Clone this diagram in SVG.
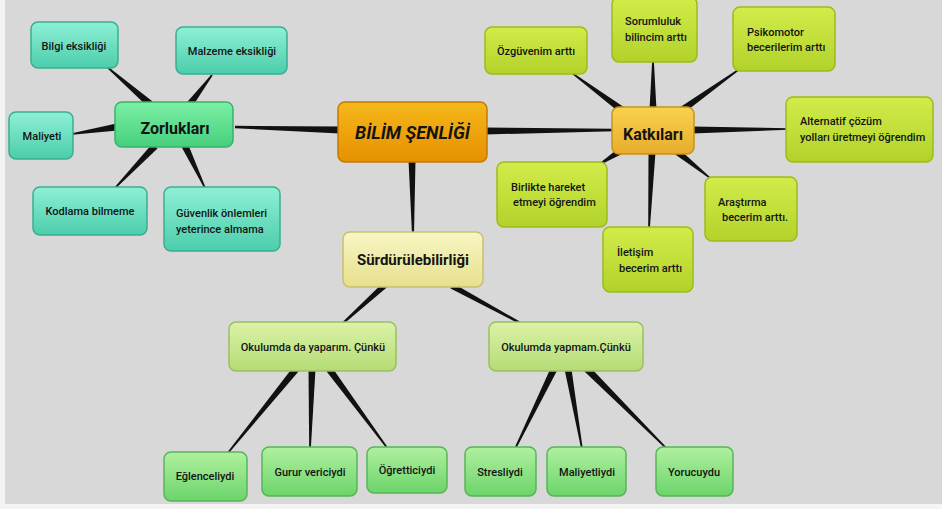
<svg xmlns="http://www.w3.org/2000/svg" width="942" height="509" viewBox="0 0 942 509">
<defs>
<linearGradient id="gTeal" x1="0" y1="0" x2="0" y2="1"><stop offset="0" stop-color="#8ef0d6"/><stop offset="1" stop-color="#4ccdab"/></linearGradient>
<linearGradient id="gGreen" x1="0" y1="0" x2="0" y2="1"><stop offset="0" stop-color="#7cf0a4"/><stop offset="1" stop-color="#46cf7e"/></linearGradient>
<linearGradient id="gOrange" x1="0" y1="0" x2="0" y2="1"><stop offset="0" stop-color="#f6b81a"/><stop offset="1" stop-color="#e69000"/></linearGradient>
<linearGradient id="gGold" x1="0" y1="0" x2="0" y2="1"><stop offset="0" stop-color="#f8d24e"/><stop offset="1" stop-color="#e8ac2c"/></linearGradient>
<linearGradient id="gLime" x1="0" y1="0" x2="0" y2="1"><stop offset="0" stop-color="#d2ec4a"/><stop offset="1" stop-color="#b2d22a"/></linearGradient>
<linearGradient id="gPale" x1="0" y1="0" x2="0" y2="1"><stop offset="0" stop-color="#f8f6c4"/><stop offset="1" stop-color="#e6e08c"/></linearGradient>
<linearGradient id="gSage" x1="0" y1="0" x2="0" y2="1"><stop offset="0" stop-color="#dcf2a8"/><stop offset="1" stop-color="#b4dc74"/></linearGradient>
<linearGradient id="gLeaf" x1="0" y1="0" x2="0" y2="1"><stop offset="0" stop-color="#b0f0a0"/><stop offset="1" stop-color="#6cd46a"/></linearGradient>
</defs>
<style>
.teal{fill:url(#gTeal);stroke:#3aae8e;stroke-width:1.5}
.green{fill:url(#gGreen);stroke:#36b46a;stroke-width:1.5}
.orange{fill:url(#gOrange);stroke:#c47a00;stroke-width:1.5}
.gold{fill:url(#gGold);stroke:#c8921c;stroke-width:1.5}
.lime{fill:url(#gLime);stroke:#9cbc1c;stroke-width:1.5}
.pale{fill:url(#gPale);stroke:#c8c070;stroke-width:1.5}
.sage{fill:url(#gSage);stroke:#98c060;stroke-width:1.5}
.leaf{fill:url(#gLeaf);stroke:#56b656;stroke-width:1.5}
text{font-family:Roboto,"Liberation Sans",sans-serif;fill:#141414;font-size:11px;font-weight:500}
.c{text-anchor:middle}
.big{font-size:16px;font-weight:bold}
.title{font-size:18px;font-weight:bold;font-style:italic}
#connectors polygon{fill:#111}
</style>
<rect x="0" y="0" width="942" height="509" fill="#f4f4f4"/>
<rect x="5" y="0" width="937" height="504" fill="#d8d8d8"/>
<g id="connectors">
<polygon points="340.1,126.5 235,125.8 235,128.2 339.9,133.5"/>
<polygon points="485,127.5 614,128.8 614,131.2 485,134.5"/>
<polygon points="408.5,160 412,234 414,234 415.5,160"/>
<polygon points="383,282.8 341.3,323.3 342.7,324.7 387,287.2"/>
<polygon points="450.6,288.6 521.5,324.9 522.5,323.1 453.4,283.4"/>
<polygon points="152.3,101.3 106.5,65.4 105.5,66.6 147.7,106.7"/>
<polygon points="192.8,106.1 212.6,75.5 211.4,74.5 187.2,101.9"/>
<polygon points="116.5,123.5 71.9,133.2 72.1,134.8 117.5,130.5"/>
<polygon points="152.5,143.6 114.4,187.5 115.6,188.6 157.5,148.4"/>
<polygon points="181.8,147.5 204.3,188.3 205.7,187.7 188.2,144.5"/>
<polygon points="624.1,107.2 572.5,72.4 571.5,73.6 619.9,112.8"/>
<polygon points="649.5,110 652.2,60 653.8,60 656.5,110"/>
<polygon points="684,112.9 738.5,70.7 737.5,69.4 680,107.2"/>
<polygon points="692,126.5 788,128.2 788,129.8 692,133.5"/>
<polygon points="672.8,152.7 709.5,178.6 710.5,177.4 677.2,147.3"/>
<polygon points="648.5,152 648.2,229 649.8,229 655.5,152"/>
<polygon points="620.1,147 599.6,163.3 600.4,164.7 623.9,153"/>
<polygon points="293.3,366.8 226.4,453.5 227.6,454.5 298.7,371.2"/>
<polygon points="308.5,369 309.2,449 310.8,449 315.5,369"/>
<polygon points="326.2,371.1 387.4,449.5 388.6,448.5 331.8,366.9"/>
<polygon points="550.9,367.5 514.3,448.6 515.7,449.4 557.1,370.5"/>
<polygon points="564.6,369.6 581.2,449.1 582.8,448.9 571.4,368.4"/>
<polygon points="584.5,371.5 666.4,449.6 667.6,448.4 589.5,366.5"/>
</g>
<g id="bilim"><rect class="orange" x="338" y="102" width="149" height="60" rx="7"/><text class="c title" x="412.5" y="139">BİLİM ŞENLİĞİ</text></g>
<g id="zorluklari"><rect class="green" x="115" y="102" width="118" height="45" rx="7"/><text class="c big" x="175" y="134">Zorlukları</text></g>
<g id="bilgi"><rect class="teal" x="31" y="22" width="87" height="46" rx="7"/><text class="c" x="74" y="50">Bilgi eksikliği</text></g>
<g id="malzeme"><rect class="teal" x="176" y="27" width="111" height="47" rx="7"/><text class="c" x="232" y="55">Malzeme eksikliği</text></g>
<g id="maliyeti"><rect class="teal" x="9" y="112" width="64" height="47" rx="7"/><text class="c" x="42" y="140">Maliyeti</text></g>
<g id="kodlama"><rect class="teal" x="33" y="187" width="114" height="48" rx="7"/><text class="c" x="90" y="215">Kodlama bilmeme</text></g>
<g id="guvenlik"><rect class="teal" x="164" y="187" width="116" height="64" rx="7"/><text x="176" y="217">Güvenlik önlemleri</text><text x="176" y="233">yeterince almama</text></g>
<g id="katkilari"><rect class="gold" x="612" y="107" width="82" height="47" rx="7"/><text class="c big" x="653" y="140">Katkıları</text></g>
<g id="ozguven"><rect class="lime" x="485" y="27" width="102" height="47" rx="7"/><text class="c" x="536" y="55">Özgüvenim arttı</text></g>
<g id="sorumluluk"><rect class="lime" x="612" y="-3" width="85" height="65" rx="7"/><text x="625" y="25">Sorumluluk</text><text x="625" y="41">bilincim arttı</text></g>
<g id="psikomotor"><rect class="lime" x="733" y="7" width="102" height="64" rx="7"/><text x="747" y="36">Psikomotor</text><text x="747" y="51">becerilerim arttı</text></g>
<g id="alternatif"><rect class="lime" x="786" y="97" width="147" height="65" rx="7"/><text x="800" y="125">Alternatif çözüm</text><text x="800" y="141">yolları üretmeyi öğrendim</text></g>
<g id="birlikte"><rect class="lime" x="497" y="162" width="110" height="65" rx="7"/><text x="511" y="191">Birlikte hareket</text><text x="513" y="206">etmeyi öğrendim</text></g>
<g id="arastirma"><rect class="lime" x="705" y="177" width="92" height="64" rx="7"/><text x="718" y="206">Araştırma</text><text x="722" y="221">becerim arttı.</text></g>
<g id="iletisim"><rect class="lime" x="603" y="227" width="90" height="65" rx="7"/><text x="617" y="256">İletişim</text><text x="619" y="272">becerim arttı</text></g>
<g id="surdurulebilirligi"><rect class="pale" x="343" y="232" width="140" height="55" rx="7"/><text class="c" x="413" y="265" style="font-size:15px;font-weight:bold">Sürdürülebilirliği</text></g>
<g id="yaparim"><rect class="sage" x="229" y="322" width="167" height="49" rx="7"/><text class="c" x="313" y="351">Okulumda da yaparım. Çünkü</text></g>
<g id="yapmam"><rect class="sage" x="489" y="322" width="154" height="49" rx="7"/><text class="c" x="566" y="351">Okulumda yapmam.Çünkü</text></g>
<g id="eglenceli"><rect class="leaf" x="164" y="452" width="83" height="49" rx="7"/><text class="c" x="205" y="480">Eğlenceliydi</text></g>
<g id="gurur"><rect class="leaf" x="262" y="447" width="95" height="49" rx="7"/><text class="c" x="310" y="476">Gurur vericiydi</text></g>
<g id="ogretti"><rect class="leaf" x="367" y="447" width="80" height="46" rx="7"/><text class="c" x="407" y="474">Öğretticiydi</text></g>
<g id="stresli"><rect class="leaf" x="465" y="447" width="71" height="49" rx="7"/><text class="c" x="500" y="476">Stresliydi</text></g>
<g id="maliyetli"><rect class="leaf" x="547" y="447" width="79" height="49" rx="7"/><text class="c" x="587" y="476">Maliyetliydi</text></g>
<g id="yorucu"><rect class="leaf" x="656" y="447" width="77" height="49" rx="7"/><text class="c" x="694" y="476">Yorucuydu</text></g>
</svg>
